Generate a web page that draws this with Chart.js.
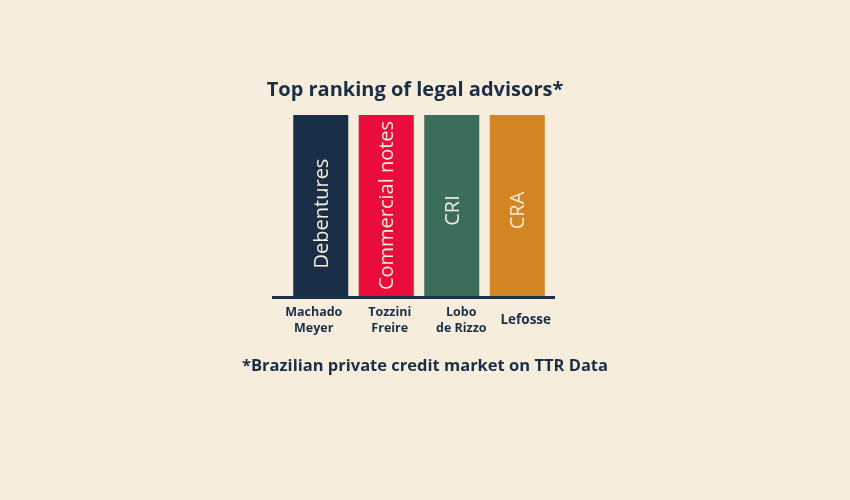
<!DOCTYPE html>
<html>
<head>
<meta charset="utf-8">
<script src="https://cdn.jsdelivr.net/npm/chart.js@4"></script>
<style>
    html, body { margin: 0; padding: 0; background: #f6eddc; }
    #wrap { width: 850px; height: 500px; }
</style>
</head>
<body>
<div id="wrap"><canvas id="rankingChart" width="850" height="500"></canvas></div>
<script>
const advisors = [['Machado', 'Meyer'], ['Tozzini', 'Freire'], ['Lobo', 'de Rizzo'], ['Lefosse']];
const instruments = ['Debentures', 'Commercial notes', 'CRI', 'CRA'];
const rankValues = [1, 1, 1, 1];
const barColors = ['#1a2f47', '#e90c3c', '#3a6e5a', '#d48523'];

const navy = '#1a2f47';
const cream = '#f6eddc';

// the labels in the original sit a little off the bar centres
const tickNudge = [-7, 3.5, 9.5, 8.5];
const instrumentNudge = [8, 0, 5, 5];

const textLayer = {
    id: 'textLayer',
    afterDatasetsDraw(chart) {
        const ctx = chart.ctx;
        const xAxis = chart.scales.x;
        const area = chart.chartArea;

        // baseline runs wider than the bars
        ctx.save();
        ctx.fillStyle = navy;
        ctx.fillRect(area.left - 16, area.bottom, area.right - area.left + 21, 3);

        ctx.textAlign = 'center';
        ctx.textBaseline = 'middle';

        // names on the bars
        ctx.font = '400 20px "Open Sans"';
        ctx.fillStyle = cream;
        chart.getDatasetMeta(0).data.forEach((bar, i) => {
            ctx.save();
            ctx.translate(bar.x + 1.5, (bar.y + bar.base) / 2 + instrumentNudge[i]);
            ctx.rotate(-Math.PI / 2);
            ctx.fillText(instruments[i], 0, 0);
            ctx.restore();
        });

        // advisor names under the axis
        ctx.fillStyle = navy;
        advisors.forEach((lines, i) => {
            ctx.font = lines.length > 1 ? '700 12.5px "Open Sans"' : '700 13.5px "Open Sans"';
            const x = xAxis.getPixelForTick(i) + tickNudge[i];
            const top = area.bottom + 24 - (lines.length - 1) * 8;
            lines.forEach((line, j) => ctx.fillText(line, x, top + j * 16));
        });

        ctx.font = '700 20px "Open Sans"';
        ctx.fillText('Top ranking of legal advisors*', 415, 90);
        ctx.font = '700 16.5px "Open Sans"';
        ctx.fillText('*Brazilian private credit market on TTR Data', 425, 366);
        ctx.restore();
    }
};

new Chart(document.getElementById('rankingChart'), {
    type: 'bar',
    data: {
        labels: advisors,
        datasets: [{
            data: rankValues,
            backgroundColor: barColors,
            barPercentage: 0.84,
            categoryPercentage: 1
        }]
    },
    options: {
        responsive: false,
        animation: false,
        layout: { padding: { left: 288, right: 300, top: 115, bottom: 204 } },
        plugins: {
            legend: { display: false },
            tooltip: { enabled: false }
        },
        scales: {
            x: { display: false },
            y: { display: false, min: 0, max: 1 }
        }
    },
    plugins: [textLayer]
});
</script>
</body>
</html>
